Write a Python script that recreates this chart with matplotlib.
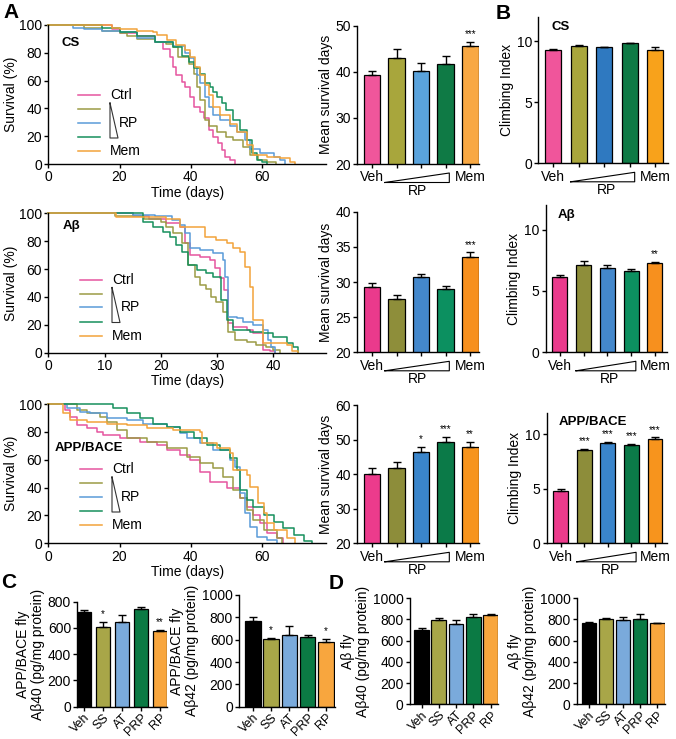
import numpy as np
import matplotlib.pyplot as plt
import matplotlib.transforms as mtransforms
from matplotlib.lines import Line2D

W, H = 676, 739

plt.rcParams['font.family'] = ['Liberation Sans', 'DejaVu Sans']
plt.rcParams['font.size'] = 10
plt.rcParams['axes.linewidth'] = 1.0
plt.rcParams['xtick.major.size'] = 3
plt.rcParams['ytick.major.size'] = 3
plt.rcParams['xtick.major.width'] = 1.0
plt.rcParams['ytick.major.width'] = 1.0
plt.rcParams['xtick.major.pad'] = 1.5
plt.rcParams['ytick.major.pad'] = 1.5

# ---- survival curves (day, % alive) ----
cs_ctrl = [(0, 100), (16, 100), (18, 97), (20, 94), (25, 92), (30, 88), (32.3, 82.5), (34.2, 77),
           (35.1, 70), (36, 64), (37.5, 59), (38.4, 55.6), (39.8, 48.4), (40.8, 41), (42.6, 37.6),
           (43.6, 33), (45, 24.5), (46.4, 19.7), (47.8, 15), (48.7, 10), (49.7, 5.3), (51, 2.9), (52.5, 0)]
cs_rp1 = [(0, 100), (8, 100), (10, 98), (15, 96), (20, 94), (22, 92), (25, 90), (30, 88), (33, 86),
          (35, 84), (36.5, 77), (39.6, 72), (40.8, 65), (41.7, 55.6), (42.6, 46), (44, 31.6), (45, 27),
          (47.3, 23), (50, 19.7), (52, 17), (54.8, 12.5), (56.7, 6.5), (59, 3), (61.4, 1.5), (64, 0)]
cs_rp2 = [(0, 100), (5, 100), (7, 98), (10, 97), (15, 96), (20, 95), (25, 91), (30, 88), (35, 85),
          (38.4, 80), (39.8, 76), (40.8, 70), (41.7, 64), (42.6, 58), (44, 48.4), (45, 41), (46.4, 35),
          (48.3, 31.6), (51, 27), (53, 23), (55.3, 17), (56.7, 11), (59.5, 7.7), (63.3, 5.3), (65, 3), (66.5, 0)]
cs_rp3 = [(0, 100), (10, 100), (15, 98), (20, 95), (25, 92), (30, 88), (35, 84), (37.5, 78),
          (39.4, 73.6), (40.8, 69), (42.6, 65), (44, 58), (45.5, 55.6), (46.4, 52), (47.3, 48.4),
          (48.7, 43.6), (50, 38.8), (52, 31.6), (53.9, 24.5), (55.8, 17), (57.2, 7.7), (58.6, 3), (60, 1.5), (61.4, 0)]
cs_mem = [(0, 100), (16, 100), (18, 98), (20, 97), (25, 96), (29.5, 95), (30.5, 92.8), (33.3, 89),
          (36, 85.6), (38.4, 82), (39.8, 77), (41.2, 70), (42.6, 64), (44, 57), (45, 49.6), (46.4, 41),
          (48.3, 35), (51, 29), (53, 23), (55.8, 13.7), (57.6, 6.5), (61.4, 5.3), (65, 4), (67.9, 1.7), (69.4, 0)]

ab_ctrl = [(0, 100), (12, 100), (15, 98), (18, 96), (21, 92.8), (23.4, 90.4), (24.3, 78.5), (25.2, 70),
           (27, 69), (28.7, 66.5), (29.6, 60.5), (30.5, 53.3), (31.2, 45), (32, 21), (32.9, 18.7),
           (35.3, 16.3), (36.4, 14), (38.2, 2), (39.4, 1), (40.3, 0)]
ab_rp1 = [(0, 100), (10, 100), (11.9, 98), (17, 96), (20, 94), (21, 90.4), (22.2, 85.6), (23.7, 78.5),
          (24.9, 63), (26.1, 54.5), (27, 48.6), (28.1, 46), (29, 40), (29.9, 36.6), (31.1, 29.4), (32, 15),
          (33.2, 9), (35.3, 8), (37, 5.5), (38.8, 3.8), (40, 2), (41.2, 0)]
ab_rp2 = [(0, 100), (10, 100), (15, 99), (19, 98), (22, 95), (23.4, 91.6), (24.3, 85.6), (25.2, 74.9),
          (27, 73.7), (29.3, 71.3), (31.1, 66.5), (31.4, 54.5), (32, 25.8), (33.5, 24.6), (34.7, 22),
          (36.4, 19.9), (38.2, 16.3), (39.1, 9), (39.7, 4.3), (40.3, 0)]
ab_rp3 = [(0, 100), (16, 100), (16.9, 94), (18.7, 90.4), (20.4, 86.8), (21.6, 83), (22.8, 77), (23.7, 72.5),
          (24.9, 63), (26.4, 59), (28.1, 57), (29.3, 54.5), (30.8, 37.8), (31.7, 23.4), (32.9, 16.3),
          (35.9, 15), (38.2, 14), (40, 11.5), (42.4, 7), (43.6, 4.3), (44.4, 0)]
ab_mem = [(0, 100), (11, 100), (12, 97), (21, 96), (23.4, 90.4), (27.9, 83), (29.9, 81), (31.7, 78.5),
          (32.9, 74.9), (34.1, 72.5), (35, 61.7), (35.9, 47.4), (36.4, 23.4), (38.2, 6.7), (42.4, 5.5),
          (43.3, 1.4), (44.4, 0)]

app_ctrl = [(0, 100), (3.75, 100), (4.7, 95.7), (6.1, 91), (8, 85), (10.8, 82.5), (13.6, 80), (15.5, 77.8),
            (20.2, 75.4), (25.8, 73), (30.5, 70.6), (33.3, 67), (37, 63.4), (39.8, 60), (42.6, 51.4),
            (45.5, 44.3), (50.1, 39.5), (53.9, 32.3), (55.8, 26.3), (57.6, 20.3), (59.5, 14.4),
            (61.4, 7.2), (64.2, 3.6), (66, 0)]
app_rp1 = [(0, 100), (5.2, 100), (8, 95.7), (10.8, 93.3), (14.5, 91), (16.4, 87.3), (19.2, 81), (22, 75.4),
           (27.6, 73), (33.3, 68.2), (38.9, 62.2), (42.6, 57.4), (46.4, 53.8), (49.2, 47.8), (52, 38.3),
           (53.9, 32.3), (55.8, 24), (57.6, 16.7), (60.5, 9.6), (64.2, 3.6), (65.6, 0)]
app_rp2 = [(0, 100), (3.3, 100), (5.2, 96.9), (8.9, 94.5), (11.7, 93.3), (16.4, 89.7), (22, 88.5),
           (26.7, 86), (33.3, 83.7), (37, 78.9), (38.9, 75.4), (42.6, 71.8), (46.4, 67), (51, 60),
           (52.5, 55), (53.9, 35.9), (55.3, 21.5), (56.7, 12), (58.6, 4.8), (61.4, 2.4), (64.2, 0)]
app_rp3 = [(0, 100), (15.5, 100), (18.3, 96.9), (22, 93.3), (25.8, 89.7), (29.5, 86), (33.3, 83.7),
           (37, 80.1), (40.8, 75.4), (44.5, 70.6), (48.3, 67), (51, 61), (53, 52.6), (53.9, 38.3),
           (55.8, 31), (57.6, 26.3), (60.5, 20.3), (63.3, 15.5), (66, 10.8), (68.9, 6), (71.7, 1.9), (74, 0)]
app_mem = [(0, 100), (2.8, 100), (4.2, 93.3), (6.1, 88.5), (10.8, 87.3), (16.4, 86), (22, 85), (27.6, 82.5),
           (35.1, 81.3), (42.6, 80), (43.1, 71.8), (47.3, 68.2), (51, 64.6), (52, 52.6), (55.8, 49),
           (56.7, 40.7), (59, 28.7), (60.5, 21.5), (61.4, 14.4), (63.3, 9.6), (67, 3.6), (69.4, 0)]

surv_colors = ['#e6559f', '#9b9b45', '#5a9bd8', '#16905c', '#f2a33a']

# ---- bar values (mean, upper error) ----
groups = ['Veh', '', '', '', 'Mem']
cs_days = [39.2, 42.9, 40.2, 41.8, 45.5]
cs_days_err = [1.0, 2.0, 1.8, 1.6, 0.9]
cs_climb = [9.3, 9.6, 9.5, 9.83, 9.26]
cs_climb_err = [0.08, 0.05, 0.06, 0.05, 0.24]
ab_days = [29.3, 27.6, 30.7, 29.0, 33.6]
ab_days_err = [0.5, 0.5, 0.5, 0.5, 0.6]
ab_climb = [6.15, 7.1, 6.83, 6.6, 7.29]
ab_climb_err = [0.17, 0.3, 0.27, 0.22, 0.1]
app_days = [40.0, 41.9, 46.3, 49.3, 47.8]
app_days_err = [1.9, 1.6, 1.6, 1.4, 1.6]
app_climb = [4.82, 8.6, 9.2, 9.02, 9.6]
app_climb_err = [0.21, 0.09, 0.13, 0.13, 0.13]

cs_days_sig = ['', '', '', '', '***']
ab_days_sig = ['', '', '', '', '***']
ab_climb_sig = ['', '', '', '', '**']
app_days_sig = ['', '', '*', '***', '**']
app_climb_sig = ['', '***', '***', '***', '***']

drugs = ['Veh', 'SS', 'AT', 'PRP', 'RP']
app_ab40 = [720, 610, 642, 741, 574]
app_ab40_err = [17, 38, 56, 21, 8]
app_ab42 = [770, 606, 642, 621, 582]
app_ab42_err = [30, 12, 83, 24, 24]
ab_ab40 = [702, 797, 759, 822, 838]
ab_ab40_err = [13, 13, 31, 31, 12]
ab_ab42 = [765, 803, 790, 806, 765]
ab_ab42_err = [13, 7, 32, 41, 3]
app_ab40_sig = ['', '*', '', '', '**']
app_ab42_sig = ['', '*', '', '', '*']

pal_a1 = ['#f0569b', '#a8a63c', '#5aa3dc', '#0f7a45', '#f8a843']
pal_b1 = ['#f0559b', '#a9a63c', '#2f79c0', '#0e7a45', '#f8a21b']
pal_2 = ['#ea3a8c', '#8e8e3a', '#4488cc', '#0c9060', '#f7901e']
pal_3 = ['#ec3b8c', '#8d8d3a', '#3a85cb', '#0b7a48', '#f7941d']
pal_c = ['#000000', '#a8a648', '#7aaadb', '#0b7a44', '#f8a63e']

fig = plt.figure(figsize=(W / 100, H / 100), dpi=100)


def add_ax(l, t, r, b):
    a = fig.add_axes([l / W, 1 - b / H, (r - l) / W, (b - t) / H])
    a.spines['top'].set_visible(False)
    a.spines['right'].set_visible(False)
    return a


def survival(ax, curves, xmax, xticks, tag, key_x, key_y, tag_xy):
    for c, col in zip(curves, surv_colors):
        d = [p[0] for p in c]
        s = [p[1] for p in c]
        ax.plot(d, s, drawstyle='steps-post', color=col, lw=1.1, clip_on=False)
    ax.set_xlim(0, xmax)
    ax.set_ylim(0, 100)
    ax.set_xticks(xticks)
    ax.set_yticks([0, 20, 40, 60, 80, 100])
    ax.set_xlabel('Time (days)', labelpad=1)
    ax.set_ylabel('Survival (%)', labelpad=1)
    fig.text(tag_xy[0] / W, 1 - tag_xy[1] / H, tag, fontsize=9.5, weight='bold', va='center')
    # hand-drawn key: five short lines, a dose wedge and labels
    step = 14
    for i, col in enumerate(surv_colors):
        y = 1 - (key_y + i * step) / H
        fig.add_artist(Line2D([key_x / W, (key_x + 22) / W], [y, y], color=col, lw=1.1))
    tx = key_x + 32
    fig.text(tx / W, 1 - key_y / H, 'Ctrl', va='center', fontsize=10)
    fig.text(tx / W, 1 - (key_y + 4 * step) / H, 'Mem', va='center', fontsize=10)
    fig.text((tx + 9) / W, 1 - (key_y + 2 * step) / H, 'RP', va='center', fontsize=10)
    t0, t1 = key_y + 8, key_y + 43
    xs = [tx / W, tx / W, (tx + 8) / W, tx / W]
    ys = [1 - t0 / H, 1 - t1 / H, 1 - t1 / H, 1 - t0 / H]
    fig.add_artist(Line2D(xs, ys, color='#333333', lw=0.8))


def bars(ax, vals, errs, cols, ylim, yticks, ylabel, sig, xlim, width, labels,
         wedge=None, tag=None, star_size=7):
    x = np.arange(len(vals))
    ax.bar(x, vals, width=width, color=cols, edgecolor='black', linewidth=0.9, zorder=2)
    ax.errorbar(x, vals, yerr=[np.zeros(len(vals)), errs], fmt='none', ecolor='black',
                elinewidth=1.0, capsize=3, capthick=1.0, zorder=3)
    for xi, v, e, s in zip(x, vals, errs, sig):
        if s:
            ax.annotate(s, (xi, v + e), xytext=(0, 2), textcoords='offset points',
                        ha='center', va='bottom', fontsize=star_size)
    ax.set_xlim(*xlim)
    ax.set_ylim(*ylim)
    ax.set_yticks(yticks)
    ax.set_xticks(x)
    ax.set_xticklabels(labels)
    ax.set_ylabel(ylabel, labelpad=2)
    if wedge is not None:
        h = ax.get_position().height * H
        tr = mtransforms.blended_transform_factory(ax.transData, ax.transAxes)
        x0, x1, xm = wedge
        yb, yt = -18.5 / h, -9 / h
        ax.add_line(Line2D([x0, x1, x1, x0], [yb, yb, yt, yb], transform=tr,
                           color='black', lw=0.8, clip_on=False))
        ax.text(xm, -27 / h, 'RP', transform=tr, ha='center', va='center', fontsize=10)
    if tag:
        ax.text(0.1, 0.93, tag, transform=ax.transAxes, fontsize=9.5, weight='bold', va='center')


# ---- panel A: survival ----
s1 = add_ax(48.3, 25, 326, 164)
survival(s1, [cs_ctrl, cs_rp1, cs_rp2, cs_rp3, cs_mem], 78, [0, 20, 40, 60], 'CS', 78, 95, (61, 43))
s2 = add_ax(48.3, 213.3, 326, 352.7)
survival(s2, [ab_ctrl, ab_rp1, ab_rp2, ab_rp3, ab_mem], 49.4, [0, 10, 20, 30, 40], 'Aβ', 80, 279.5, (63, 226))
s3 = add_ax(48.3, 404, 326, 543.3)
survival(s3, [app_ctrl, app_rp1, app_rp2, app_rp3, app_mem], 78, [0, 20, 40, 60], 'APP/BACE', 80, 469, (55, 448))

# ---- panel A: mean survival bars ----
m1 = add_ax(357.3, 25.7, 479, 164)
bars(m1, cs_days, cs_days_err, pal_a1, (20, 50), [20, 30, 40, 50], 'Mean survival days',
     cs_days_sig, (-0.6, 4.36), 0.68, groups, wedge=(0.52, 3.15, 1.85))
m2 = add_ax(357.3, 211.7, 479, 352.3)
bars(m2, ab_days, ab_days_err, pal_2, (20, 40), [20, 25, 30, 35, 40], 'Mean survival days',
     ab_days_sig, (-0.6, 4.36), 0.68, groups, wedge=(0.52, 3.15, 1.85))
m3 = add_ax(357.3, 405, 479, 543.3)
bars(m3, app_days, app_days_err, pal_3, (20, 60), [20, 30, 40, 50, 60], 'Mean survival days',
     app_days_sig, (-0.6, 4.36), 0.68, groups, wedge=(0.52, 3.15, 1.85))

# ---- panel B: climbing ----
b1 = add_ax(538.3, 16.7, 668, 163.3)
bars(b1, cs_climb, cs_climb_err, pal_b1, (0, 12), [0, 5, 10], 'Climbing Index',
     ['', '', '', '', ''], (-0.59, 4.51), 0.63, groups, wedge=(0.68, 3.2, 2.1), tag='CS')
b2 = add_ax(545.7, 205, 667, 352.3)
bars(b2, ab_climb, ab_climb_err, pal_2, (0, 12), [0, 5, 10], 'Climbing Index',
     ab_climb_sig, (-0.59, 4.51), 0.63, groups, wedge=(0.68, 3.2, 2.1), tag='Aβ')
b3 = add_ax(546.7, 412.7, 667, 543.3)
bars(b3, app_climb, app_climb_err, pal_3, (0, 12), [0, 5, 10], 'Climbing Index',
     app_climb_sig, (-0.59, 4.51), 0.63, groups, wedge=(0.68, 3.2, 2.1), tag='APP/BACE')

# ---- panels C and D: ELISA ----
c1 = add_ax(77.3, 601.7, 166.7, 706.7)
bars(c1, app_ab40, app_ab40_err, pal_c, (0, 800), [0, 200, 400, 600, 800],
     'APP/BACE fly\nAβ40 (pg/mg protein)', app_ab40_sig, (-0.36, 4.35), 0.72, drugs)
c2 = add_ax(239.3, 595, 335, 706.7)
bars(c2, app_ab42, app_ab42_err, pal_c, (0, 1000), [0, 200, 400, 600, 800, 1000],
     'APP/BACE fly\nAβ42 (pg/mg protein)', app_ab42_sig, (-0.75, 4.5), 0.85, drugs)
d1 = add_ax(410, 598, 498, 704.3)
bars(d1, ab_ab40, ab_ab40_err, pal_c, (0, 1000), [0, 200, 400, 600, 800, 1000],
     'Aβ fly\nAβ40 (pg/mg protein)', ['', '', '', '', ''], (-0.67, 4.43), 0.85, drugs)
d2 = add_ax(576.7, 598, 665, 704.3)
bars(d2, ab_ab42, ab_ab42_err, pal_c, (0, 1000), [0, 200, 400, 600, 800, 1000],
     'Aβ fly\nAβ42 (pg/mg protein)', ['', '', '', '', ''], (-0.72, 4.45), 0.85, drugs)

for a in (c1, c2, d1, d2):
    a.tick_params(axis='x', labelsize=9, pad=0.5)
    for lab in a.get_xticklabels():
        lab.set_rotation(45)
        lab.set_ha('right')
        lab.set_rotation_mode('anchor')
    a.yaxis.label.set_linespacing(1.1)

for letter, (lx, ly) in {'A': (3, 3), 'B': (496, 4), 'C': (1, 573), 'D': (329, 574)}.items():
    fig.text(lx / W, 1 - ly / H, letter, fontsize=15, weight='bold', va='top', ha='left')

fig.savefig('out.png', dpi=100)
